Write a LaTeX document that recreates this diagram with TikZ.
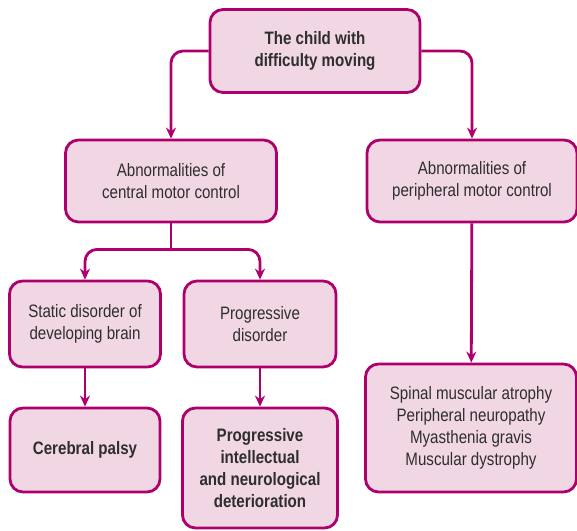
\documentclass[tikz,border=0pt]{standalone}
\usepackage{fontspec}
\setmainfont{Liberation Sans}[FakeStretch=0.84]
\usetikzlibrary{positioning,arrows.meta}
\definecolor{boxline}{HTML}{AE006C}
\definecolor{boxfill}{HTML}{F1D6E4}
\definecolor{boxtext}{HTML}{2E2E2E}

\begin{document}
\begin{tikzpicture}[
		x=1pt, y=-1pt,
		box/.style={
			draw=boxline,
			fill=boxfill,
			line width=2.8pt,
			rounded corners=13pt,
			align=center,
			text=boxtext,
			inner sep=0pt,
			font=\fontsize{18}{22}\selectfont
		},
		boldbox/.style={box, font=\fontsize{18}{22}\selectfont\bfseries},
		line/.style={draw=boxline, line width=2.8pt},
		link/.style={line, rounded corners=12pt, -{Stealth[length=11pt,width=10pt]}}
		]
		\useasboundingbox (0,0) rectangle (577,530);
		
		\node[boldbox, minimum width=210pt, minimum height=83pt] (child) at (315,51) {The child with\\ difficulty moving};
		
		\node[box, minimum width=211pt, minimum height=82pt] (central) at (171,181) {Abnormalities of\\ central motor control};
		
		\node[box, minimum width=210pt, minimum height=82pt] (peripheral) at (472,181) {Abnormalities of\\ peripheral motor control};
		
		\node[box, minimum width=151pt, minimum height=86pt] (static) at (85,324) {Static disorder of\\ developing brain};
		
		\node[box, minimum width=152pt, minimum height=86pt] (progressive) at (260,324) {Progressive\\ disorder};
		
		\node[boldbox, minimum width=150pt, minimum height=84pt] (palsy) at (85,450) {Cerebral palsy};
		
		\node[boldbox, minimum width=155pt, minimum height=120pt] (deterioration) at (260,468) {Progressive\\ intellectual\\ and neurological\\ deterioration};
		
		\node[box, minimum width=211pt, minimum height=128pt] (disorders) at (471,428) {Spinal muscular atrophy\\ Peripheral neuropathy\\ Myasthenia gravis\\ Muscular dystrophy};
		
		\coordinate[below=26pt of central.south] (split);
		
		\draw[link] (child.west) -| (central.north);
		\draw[link] (child.east) -| (peripheral.north);
		\draw[line] (central.south) -- (split);
		\draw[link] (split) -| (static.north);
		\draw[link] (split) -| (progressive.north);
		\draw[link] (static) -- (palsy);
		\draw[link] (progressive) -- (deterioration);
		\draw[link] (peripheral) -- (disorders);
		
	\end{tikzpicture}
\end{document}
